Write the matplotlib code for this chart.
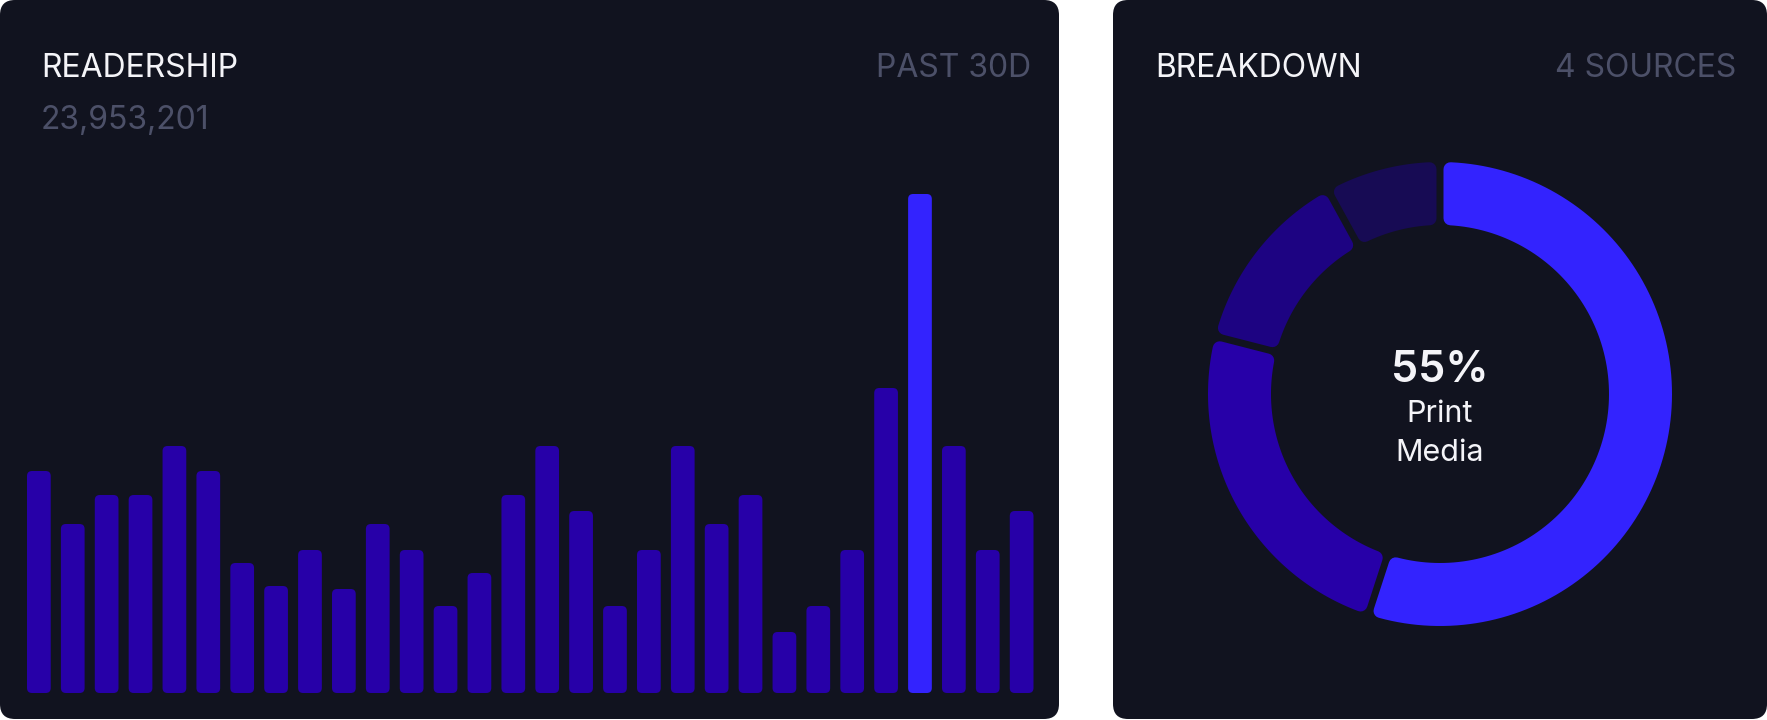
import numpy as np
import matplotlib.pyplot as plt
from matplotlib.patches import FancyBboxPatch, Polygon

plt.rcParams['font.family'] = ['Inter', 'DejaVu Sans']

# daily readership, past 30 days (relative heights)
daily_reads = [222, 169, 198, 198, 247, 222, 130, 107, 143, 104,
               169, 143, 87, 120, 198, 247, 182, 87, 143, 247,
               169, 198, 61, 87, 143, 305, 499, 247, 143, 182]
total_label = '23,953,201'

# breakdown of sources (share in %)
source_names = ['Print Media', 'Online', 'Social', 'Other']
source_share = [55, 24, 13, 8]

BG_PAGE = '#ffffff'
BG_CARD = '#11131f'
BAR = '#2700a8'
HIGHLIGHT = '#3323fe'
SRC_COLORS = ['#3323fe', '#2700a8', '#1d0382', '#170b54']
WHITE = '#f4f4f8'
GREY = '#4c5068'

W, H = 1767, 720
fig = plt.figure(figsize=(W / 100, H / 100), dpi=100, facecolor=BG_PAGE)

# background layer in pixel coordinates
bg = fig.add_axes([0, 0, 1, 1])
bg.set_xlim(0, W)
bg.set_ylim(H, 0)
bg.axis('off')
for x0, x1 in [(0, 1059), (1113, 1767)]:
    bg.add_patch(FancyBboxPatch((x0, 0), x1 - x0, 719,
                                boxstyle='round,pad=0,rounding_size=15',
                                fc=BG_CARD, ec='none'))

bg.text(41, 77, 'READERSHIP', color=WHITE, fontsize=23, va='baseline')
bg.text(41, 129, total_label, color=GREY, fontsize=23, va='baseline')
bg.text(1031, 77, 'PAST 30D', color=GREY, fontsize=23, va='baseline', ha='right')
bg.text(1155, 77, 'BREAKDOWN', color=WHITE, fontsize=23, va='baseline')
bg.text(1736, 77, '4 SOURCES', color=GREY, fontsize=23, va='baseline', ha='right')

# ---- bar chart ----
left, right, top, base = 27, 1033.5, 194, 693
ax = fig.add_axes([left / W, (H - base) / H, (right - left) / W, (base - top) / H])
ax.axis('off')
x = np.arange(len(daily_reads))
colors = [HIGHLIGHT if v == max(daily_reads) else BAR for v in daily_reads]
bars = ax.bar(x, daily_reads, width=0.7, color=colors)
ax.set_xlim(-0.35, len(daily_reads) - 0.65)
ax.set_ylim(0, max(daily_reads))

# swap plain rectangles for rounded ones
px_x = (right - left) / (ax.get_xlim()[1] - ax.get_xlim()[0])
px_y = (base - top) / (ax.get_ylim()[1] - ax.get_ylim()[0])
r = 5
for rect in bars:
    ax.add_patch(FancyBboxPatch((rect.get_x(), 0), rect.get_width(), rect.get_height(),
                                boxstyle='round,pad=0,rounding_size=%f' % (r / px_x),
                                mutation_aspect=px_x / px_y,
                                fc=rect.get_facecolor(), ec='none'))
    rect.set_visible(False)

# ---- donut ----
cx, cy, R = 1440, 394, 240
dax = fig.add_axes([(cx - R) / W, (H - cy - R) / H, 2 * R / W, 2 * R / H])
wedges, _ = dax.pie(source_share, colors=SRC_COLORS, startangle=90,
                    counterclock=False, radius=232,
                    wedgeprops=dict(width=63))
dax.set_xlim(-R, R)
dax.set_ylim(-R, R)
dax.set_aspect('equal')

# rebuild each wedge with a constant-width gap and rounded corners
half_gap, c = 3.5, 7
for w in wedges:
    ro = w.r - c
    ri = w.r - w.width + c
    d = half_gap + c
    a1, a2 = np.radians(w.theta1), np.radians(w.theta2)
    t_out = np.linspace(a1 + np.arcsin(d / ro), a2 - np.arcsin(d / ro), 120)
    t_in = np.linspace(a2 - np.arcsin(d / ri), a1 + np.arcsin(d / ri), 120)
    pts = np.vstack([np.c_[ro * np.cos(t_out), ro * np.sin(t_out)],
                     np.c_[ri * np.cos(t_in), ri * np.sin(t_in)]])
    col = w.get_facecolor()
    dax.add_patch(Polygon(pts, closed=True, fc=col, ec=col,
                          lw=2 * c * 0.72, joinstyle='round'))
    w.set_visible(False)

bg.text(cx, 382, '%d%%' % source_share[0], color=WHITE, fontsize=31,
        fontweight='semibold', ha='center', va='baseline')
name1, name2 = source_names[0].split()
bg.text(cx, 422, name1, color=WHITE, fontsize=22, ha='center', va='baseline')
bg.text(cx, 461, name2, color=WHITE, fontsize=22, ha='center', va='baseline')

fig.savefig('out.png', dpi=100, facecolor=BG_PAGE)
